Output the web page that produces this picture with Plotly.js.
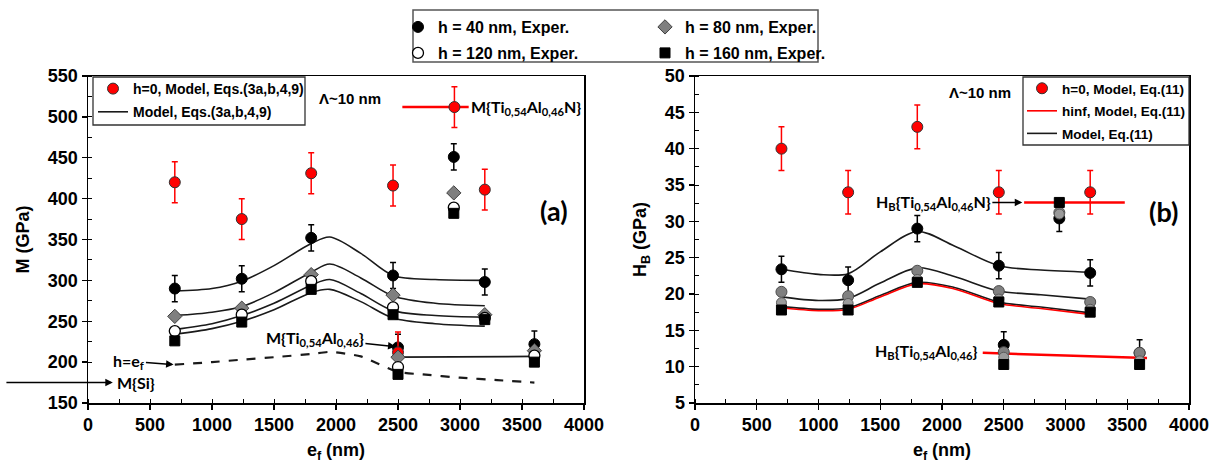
<!DOCTYPE html>
<html>
<head>
<meta charset="utf-8">
<script src="https://cdn.plot.ly/plotly-3.0.1.min.js"></script>
<style>
  html, body { margin: 0; padding: 0; background: #ffffff; }
  #chart { width: 1223px; height: 466px; }
</style>
</head>
<body>
<div id="chart"></div>
<script>
// ---- film thickness e_f (nm) of the measured samples ----
// first five: multilayers; then Ti0.54Al0.46N film; then two Ti0.54Al0.46 films
const efExp = [700, 1240, 1800, 2460, 3200, 2950, 2500, 3600];

// ---- (a) reduced modulus M (GPa), experiments at four depths h ----
const M_h40  = [290, 302, 352, 306, 298, 451, 218, 222];
const M_h80  = [256, 266, 307, 282, 258, 407, 206, 214];
const M_h120 = [238, 258, 299, 267, 254, 389, 194, 208];
const M_h160 = [226, 249, 289, 258, 252, 382, 185, 200];
const M_h40_err = [16, 16, 16, 16, 16, 16, 16, 16];

// ---- (a) model at h = 0 ----
const efModel0 = [700, 1240, 1800, 2460, 3200];
const M_h0     = [420, 375, 431, 416, 411];
const M_h0_err = [25, 25, 25, 25, 25];

// reference films in (a)
const efTiAlN = [2955];
const M_TiAlN = [512];
const M_TiAlN_err = [25];
const efTiAlN_line = [2535, 3070];
const M_TiAlN_line = [512, 512];
const efTiAl = [2500];
const M_TiAl = [212];
const M_TiAl_err = [25];
const efTiAl_line = [2500, 3600];
const M_TiAl_line = [206, 207];

// ---- (a) model curves, Eqs.(3a,b,4,9) ----
const efCurveM = [700, 1000, 1240, 1500, 1800, 1950, 2200, 2460, 2800, 3200];
const Mc_h40  = [287, 290, 299, 318, 345, 353, 333, 306, 301, 300];
const Mc_h80  = [257, 261, 268, 285, 310, 320, 303, 281, 272, 269];
const Mc_h120 = [240, 247, 257, 272, 294, 301, 284, 263, 257, 255];
const Mc_h160 = [234, 241, 250, 264, 285, 289, 274, 254, 247, 244];

// h = e_f limit (dashed)
const efDash = [700, 1000, 1240, 1500, 1800, 1950, 2200, 2500, 2700, 3000, 3300, 3600];
const M_dash = [197, 200, 203, 206, 210, 212.5, 207, 188, 185, 181, 178, 175];

// ---- (b) hardness H_B (GPa), experiments ----
const H_h40  = [23.4, 21.9, 29.0, 23.9, 22.9, 30.4, 13.0, 11.9];
const H_h80  = [20.3, 19.7, 23.2, 20.4, 18.9, 31.2, 12.0, 11.9];
const H_h120 = [18.8, 18.7, 22.0, 19.3, 17.9, 31.0, 11.3, 10.8];
const H_h160 = [17.8, 17.8, 21.6, 18.9, 17.5, 32.6, 10.3, 10.3];
const H_h40_err = [1.8, 1.8, 1.8, 1.8, 1.8, 1.8, 1.8, 1.8];

// (b) model at h = 0
const H_h0     = [40, 34, 43, 34, 34];
const H_h0_err = [3, 3, 3, 3, 3];

// (b) model curves, Eq.(11)
const efCurveH = [700, 1000, 1240, 1500, 1800, 2100, 2460, 2800, 3200];
const Hc_h40  = [23.4, 22.7, 22.8, 25.8, 28.6, 26.6, 23.9, 23.3, 23.0];
const Hc_h80  = [19.6, 19.1, 19.4, 21.5, 23.6, 22.4, 20.4, 19.9, 19.3];
const Hc_h160 = [18.3, 17.9, 18.1, 19.8, 21.6, 20.9, 18.9, 18.2, 17.4];
const Hc_hinf = [18.1, 17.7, 17.9, 19.6, 21.4, 20.7, 18.7, 18.0, 17.2];

// (b) reference film levels
const efTiAlN_H = [2665, 3480];
const H_TiAlN   = [32.6, 32.6];
const efTiAl_H  = [2330, 3660];
const H_TiAl    = [11.9, 11.2];

// ---------------------------------------------------------------
const W = 1223, H = 466;
const fx = px => px / W;
const fy = py => 1 - py / H;

const BOLD = { family: 'Liberation Sans, Arial, sans-serif', weight: 700, color: '#000' };
const CAL  = { family: 'Lato, Liberation Sans, sans-serif', weight: 700, color: '#000' };

const RED = '#ff0000';
const curveLine = { color: '#1a1a1a', width: 1.6, shape: 'spline', smoothing: 0.9 };

function errBars(arr, color) {
  return { type: 'data', array: arr, color: color, thickness: 1.5, width: 3 };
}

const traces = [];

// ===== panel (a) =====
[Mc_h40, Mc_h80, Mc_h120, Mc_h160].forEach((yy, i) => {
  traces.push({
    x: efCurveM, y: yy, xaxis: 'x', yaxis: 'y', mode: 'lines',
    line: curveLine, hoverinfo: 'skip',
    name: 'Model, Eqs.(3a,b,4,9)', legend: 'legend2', legendrank: 2,
    legendgroup: 'mA', showlegend: i === 0
  });
});
traces.push({
  x: efDash, y: M_dash, xaxis: 'x', yaxis: 'y', mode: 'lines',
  line: { color: '#1a1a1a', width: 2.2, dash: 'dash', shape: 'spline', smoothing: 0.6 },
  showlegend: false
});
traces.push({
  x: efTiAl_line, y: M_TiAl_line, xaxis: 'x', yaxis: 'y', mode: 'lines',
  line: { color: '#1a1a1a', width: 1.8 }, showlegend: false
});
traces.push({
  x: efTiAlN_line, y: M_TiAlN_line, xaxis: 'x', yaxis: 'y', mode: 'lines',
  line: { color: RED, width: 2.5 }, showlegend: false
});
traces.push({
  x: efExp, y: M_h40, xaxis: 'x', yaxis: 'y', mode: 'markers',
  name: 'h = 40 nm, Exper.', legend: 'legend',
  marker: { symbol: 'circle', size: 11, color: '#000', line: { color: '#000', width: 1 } },
  error_y: errBars(M_h40_err, '#000')
});
traces.push({
  x: efModel0, y: M_h0, xaxis: 'x', yaxis: 'y', mode: 'markers',
  name: 'h=0, Model, Eqs.(3a,b,4,9)', legend: 'legend2', legendrank: 1, legendgroup: 'h0A',
  marker: { symbol: 'circle', size: 11, color: RED, line: { color: '#333', width: 1 } },
  error_y: errBars(M_h0_err, RED)
});
traces.push({
  x: efTiAlN, y: M_TiAlN, xaxis: 'x', yaxis: 'y', mode: 'markers', showlegend: false,
  marker: { symbol: 'circle', size: 11, color: RED, line: { color: '#333', width: 1 } },
  error_y: errBars(M_TiAlN_err, RED)
});
traces.push({
  x: efTiAl, y: M_TiAl, xaxis: 'x', yaxis: 'y', mode: 'markers', showlegend: false,
  marker: { symbol: 'circle', size: 11, color: RED, line: { color: '#333', width: 1 } },
  error_y: errBars(M_TiAl_err, RED)
});
traces.push({
  x: efExp, y: M_h80, xaxis: 'x', yaxis: 'y', mode: 'markers',
  name: 'h = 80 nm, Exper.', legend: 'legend',
  marker: { symbol: 'diamond', size: 11, color: '#7f7f7f', line: { color: '#404040', width: 1 } }
});
traces.push({
  x: efExp, y: M_h120, xaxis: 'x', yaxis: 'y', mode: 'markers',
  name: 'h = 120 nm, Exper.', legend: 'legend4',
  marker: { symbol: 'circle', size: 11, color: '#ffffff', line: { color: '#000', width: 1.3 } }
});
traces.push({
  x: efExp, y: M_h160, xaxis: 'x', yaxis: 'y', mode: 'markers',
  name: 'h = 160 nm, Exper.', legend: 'legend4',
  marker: { symbol: 'square', size: 10, color: '#000', line: { color: '#000', width: 1 } }
});

// ===== panel (b) =====
traces.push({
  x: efTiAlN_H, y: H_TiAlN, xaxis: 'x2', yaxis: 'y2', mode: 'lines',
  line: { color: RED, width: 2.5 }, showlegend: false
});
traces.push({
  x: efTiAl_H, y: H_TiAl, xaxis: 'x2', yaxis: 'y2', mode: 'lines',
  line: { color: RED, width: 2.5 }, showlegend: false
});
[Hc_h40, Hc_h80, Hc_h160].forEach((yy, i) => {
  traces.push({
    x: efCurveH, y: yy, xaxis: 'x2', yaxis: 'y2', mode: 'lines',
    line: curveLine, name: 'Model, Eq.(11)', legend: 'legend3', legendrank: 3,
    legendgroup: 'mB', showlegend: i === 0
  });
});
traces.push({
  x: efCurveH, y: Hc_hinf, xaxis: 'x2', yaxis: 'y2', mode: 'lines',
  line: { color: RED, width: 1.6, shape: 'spline', smoothing: 0.9 },
  name: 'hinf, Model, Eq.(11)', legend: 'legend3', legendrank: 2, legendgroup: 'hinfB'
});
traces.push({
  x: efExp, y: H_h40, xaxis: 'x2', yaxis: 'y2', mode: 'markers', showlegend: false,
  marker: { symbol: 'circle', size: 11, color: '#000', line: { color: '#000', width: 1 } },
  error_y: errBars(H_h40_err, '#000')
});
traces.push({
  x: efExp, y: H_h80, xaxis: 'x2', yaxis: 'y2', mode: 'markers', showlegend: false,
  marker: { symbol: 'circle', size: 11, color: '#808080', line: { color: '#4d4d4d', width: 1 } }
});
traces.push({
  x: efExp, y: H_h120, xaxis: 'x2', yaxis: 'y2', mode: 'markers', showlegend: false,
  marker: { symbol: 'circle', size: 10, color: '#9a9a9a', line: { color: '#5a5a5a', width: 1 } }
});
traces.push({
  x: efExp, y: H_h160, xaxis: 'x2', yaxis: 'y2', mode: 'markers', showlegend: false,
  marker: { symbol: 'square', size: 10, color: '#000', line: { color: '#000', width: 1 } }
});
traces.push({
  x: efModel0, y: H_h0, xaxis: 'x2', yaxis: 'y2', mode: 'markers',
  name: 'h=0, Model, Eq.(11)', legend: 'legend3', legendrank: 1, legendgroup: 'h0B',
  marker: { symbol: 'circle', size: 11, color: RED, line: { color: '#333', width: 1 } },
  error_y: errBars(H_h0_err, RED)
});

// ---- axes ----
function xAxis(domain, anchor) {
  return {
    domain: domain, anchor: anchor, range: [0, 4000], dtick: 500, tick0: 0,
    ticks: 'outside', ticklen: 5, tickwidth: 1.3, tickcolor: '#000',
    minor: { dtick: 250, ticks: 'inside', ticklen: 4, tickwidth: 1, tickcolor: '#000' },
    showline: true, linecolor: '#000', linewidth: 1.5, mirror: true,
    showgrid: false, zeroline: false,
    tickfont: Object.assign({ size: 18 }, BOLD),
    title: { text: 'e<sub>f</sub> (nm)', font: Object.assign({ size: 18 }, BOLD), standoff: 9 }
  };
}
function yAxis(domain, anchor, range, dtick, title) {
  return {
    domain: domain, anchor: anchor, range: range, dtick: dtick, tick0: range[0],
    ticks: 'outside', ticklen: 5, tickwidth: 1.3, tickcolor: '#000',
    minor: { dtick: dtick / 2, ticks: 'inside', ticklen: 4, tickwidth: 1, tickcolor: '#000' },
    showline: true, linecolor: '#000', linewidth: 1.5, mirror: true,
    showgrid: false, zeroline: false,
    tickfont: Object.assign({ size: 18 }, BOLD),
    title: { text: title, font: Object.assign({ size: 18 }, BOLD), standoff: 13 }
  };
}
// inward half of the crossing major ticks
function crossX(base, anchor) {
  return { overlaying: base, anchor: anchor, range: [0, 4000], dtick: 500, tick0: 0,
    ticks: 'inside', ticklen: 5, tickwidth: 1.3, tickcolor: '#000',
    showticklabels: false, showline: false, showgrid: false, zeroline: false };
}
function crossY(base, anchor, range, dtick) {
  return { overlaying: base, anchor: anchor, range: range, dtick: dtick, tick0: range[0],
    ticks: 'inside', ticklen: 5, tickwidth: 1.3, tickcolor: '#000',
    showticklabels: false, showline: false, showgrid: false, zeroline: false };
}

const dA = [fx(88), fx(584)];
const dB = [fx(695), fx(1189)];
const dY = [fy(403), fy(76)];

// boxed legends: the frame is a layout shape, the legend itself is borderless
function legendIn(x, y, size) {
  return {
    x: x, y: y, xanchor: 'left', yanchor: 'top',
    bgcolor: 'rgba(0,0,0,0)', borderwidth: 0,
    font: Object.assign({ size: size }, BOLD),
    itemwidth: 30, traceorder: 'grouped', tracegroupgap: 2,
    itemclick: false, itemdoubleclick: false
  };
}
function topRow(y) {
  return {
    x: fx(398), y: y, xanchor: 'left', yanchor: 'top', orientation: 'h',
    entrywidth: 202, entrywidthmode: 'pixels', itemwidth: 30,
    bgcolor: 'rgba(0,0,0,0)', borderwidth: 0,
    font: Object.assign({ size: 16 }, BOLD), traceorder: 'normal',
    itemclick: false, itemdoubleclick: false
  };
}
function frame(x0, y0, x1, y1, col) {
  return { type: 'rect', xref: 'paper', yref: 'paper', x0: fx(x0), x1: fx(x1), y0: fy(y1), y1: fy(y0),
    line: { color: col, width: 1.3 }, fillcolor: '#ffffff', layer: 'above' };
}

const arrow = { showarrow: true, arrowhead: 2, arrowsize: 1, arrowwidth: 1.5, arrowcolor: '#000' };

const annotations = [
  // panel (a)
  { xref: 'x', yref: 'y', x: 2110, y: 523, text: 'Λ~10 nm', showarrow: false, font: Object.assign({ size: 15 }, BOLD) },
  { xref: 'x', yref: 'y', x: 3075, y: 512, xanchor: 'left', text: 'M{Ti<sub>0,54</sub>Al<sub>0,46</sub>N}', showarrow: false, font: Object.assign({ size: 16 }, CAL) },
  { xref: 'x', yref: 'y', x: 3760, y: 385, text: '(a)', showarrow: false, font: Object.assign({ size: 27 }, CAL) },
  Object.assign({ xref: 'x', yref: 'y', axref: 'x', ayref: 'y', x: 2480, y: 219, ax: 1830, ay: 229,
    text: 'M{Ti<sub>0,54</sub>Al<sub>0,46</sub>}', font: Object.assign({ size: 16 }, CAL) }, arrow),
  Object.assign({ xref: 'x', yref: 'y', axref: 'x', ayref: 'y', x: 690, y: 197, ax: 330, ay: 201,
    text: 'h=e<sub>f</sub>', font: Object.assign({ size: 16 }, CAL) }, arrow),
  Object.assign({ xref: 'x', yref: 'y', axref: 'x', ayref: 'y', x: 200, y: 175, ax: -670, ay: 175,
    text: '' }, arrow),
  { xref: 'x', yref: 'y', x: 215, y: 175, xanchor: 'left', text: 'M{Si}', showarrow: false, font: Object.assign({ size: 16 }, CAL) },
  // panel (b)
  { xref: 'x2', yref: 'y2', x: 2310, y: 47.7, text: 'Λ~10 nm', showarrow: false, font: Object.assign({ size: 15 }, BOLD) },
  { xref: 'x2', yref: 'y2', x: 3790, y: 31.3, text: '(b)', showarrow: false, font: Object.assign({ size: 27 }, CAL) },
  Object.assign({ xref: 'x2', yref: 'y2', axref: 'x2', ayref: 'y2', x: 2650, y: 32.6, ax: 1930, ay: 32.6,
    text: 'H<sub>B</sub>{Ti<sub>0,54</sub>Al<sub>0,46</sub>N}', font: Object.assign({ size: 16 }, CAL) }, arrow),
  { xref: 'x2', yref: 'y2', x: 1870, y: 12.1, text: 'H<sub>B</sub>{Ti<sub>0,54</sub>Al<sub>0,46</sub>}', showarrow: false, font: Object.assign({ size: 16 }, CAL) }
];

const layout = {
  width: W, height: H,
  margin: { l: 0, r: 0, t: 0, b: 0, pad: 0 },
  paper_bgcolor: '#ffffff', plot_bgcolor: '#ffffff',
  showlegend: true,
  xaxis: xAxis(dA, 'y'),
  yaxis: yAxis(dY, 'x', [150, 550], 50, 'M (GPa)'),
  xaxis2: xAxis(dB, 'y2'),
  yaxis2: yAxis(dY, 'x2', [5, 50], 5, 'H<sub>B</sub> (GPa)'),
  xaxis3: crossX('x', 'y'),
  yaxis3: crossY('y', 'x', [150, 550], 50),
  xaxis4: crossX('x2', 'y2'),
  yaxis4: crossY('y2', 'x2', [5, 50], 5),
  legend: topRow(fy(10)),
  legend4: topRow(fy(36)),
  legend2: legendIn(fx(93), fy(73), 14),
  legend3: legendIn(fx(1022), fy(73), 13.5),
  shapes: [
    { type: 'rect', xref: 'paper', yref: 'paper', x0: fx(413), x1: fx(818), y0: fy(62), y1: fy(10),
      line: { color: '#555', width: 1.5 }, fillcolor: 'rgba(0,0,0,0)', layer: 'above' },
    frame(93, 77, 305, 125, '#333'),
    frame(1023, 77, 1189, 145, '#333')
  ],
  annotations: annotations
};

Plotly.newPlot('chart', traces, layout, { displayModeBar: false, staticPlot: true });
</script>
</body>
</html>
